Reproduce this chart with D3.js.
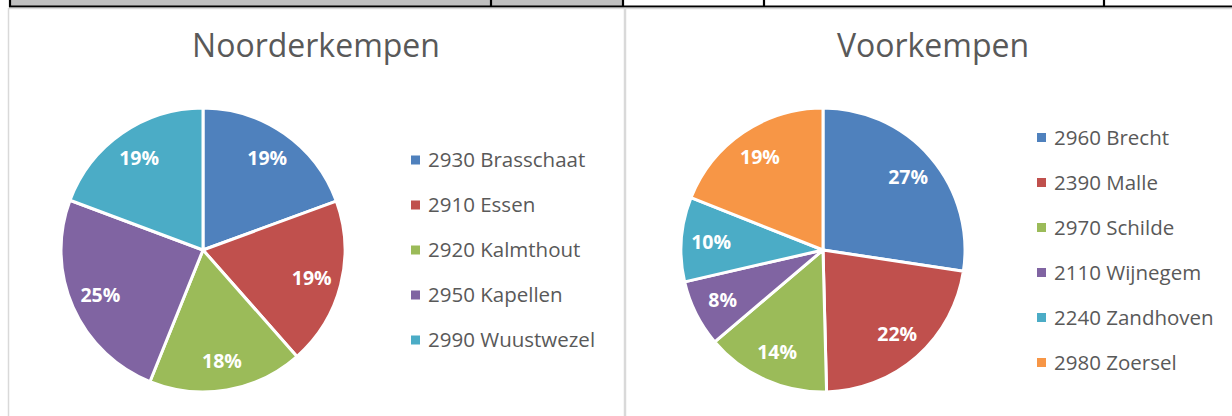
<!DOCTYPE html>
<html>
<head>
<meta charset="utf-8">
<script src="https://cdn.jsdelivr.net/npm/d3@7"></script>
<style>
  html, body { margin: 0; padding: 0; background: #ffffff; }
  svg { display: block; }
</style>
</head>
<body>
<svg id="chart" width="1232" height="416"></svg>
<script>
// ---- data ----
const titleNoord = "Noorderkempen";
const catsNoord = ["2930 Brasschaat", "2910 Essen", "2920 Kalmthout", "2950 Kapellen", "2990 Wuustwezel"];
const valsNoord = [19.4, 19.1, 17.6, 24.6, 19.3];

const titleVoor = "Voorkempen";
const catsVoor = ["2960 Brecht", "2390 Malle", "2970 Schilde", "2110 Wijnegem", "2240 Zandhoven", "2980 Zoersel"];
const valsVoor = [27.4, 22.2, 14.2, 7.6, 9.6, 19.0];

const palette = ["#4F81BD", "#C0504D", "#9BBB59", "#8064A2", "#4BACC6", "#F79646"];

// ---- drawing ----
const svg = d3.select("#chart");
const FONT = "'Open Sans', 'Noto Sans', sans-serif";

// top table row remnants
const tbl = svg.append("g");
tbl.append("rect").attr("x", 10).attr("y", 0).attr("width", 613).attr("height", 6).attr("fill", "#bfbfbf");
tbl.append("line").attr("x1", 9).attr("x2", 1232).attr("y1", 6.5).attr("y2", 6.5)
  .attr("stroke", "#000").attr("stroke-width", 2);
[10, 491, 623, 764, 1104].forEach(x => {
  tbl.append("line").attr("x1", x).attr("x2", x).attr("y1", 0).attr("y2", 7)
    .attr("stroke", "#000").attr("stroke-width", 2.2);
});

function drawPie(opts) {
  const { left, width, title, cats, vals, cx, cy, r, legendX } = opts;
  const g = svg.append("g");
  // chart frame
  g.append("rect").attr("x", left + 0.5).attr("y", 8.5).attr("width", width).attr("height", 420)
    .attr("fill", "#ffffff").attr("stroke", "#d9d9d9").attr("stroke-width", 1.5);

  g.append("text")
    .attr("x", left + width / 2).attr("y", 57)
    .attr("text-anchor", "middle")
    .attr("font-family", FONT).attr("font-size", 32)
    .attr("fill", "#595959")
    .text(title);

  const color = d3.scaleOrdinal().domain(cats).range(palette);
  const total = d3.sum(vals);
  const data = cats.map((c, i) => ({ cat: c, value: vals[i] }));
  const pie = d3.pie().value(d => d.value).sort(null);
  const arcs = pie(data);
  const arc = d3.arc().innerRadius(0).outerRadius(r);
  const labelArc = d3.arc().innerRadius(r * 0.79).outerRadius(r * 0.79);
  const fmt = d3.format(".0%");

  const pg = g.append("g").attr("transform", `translate(${cx},${cy})`);
  pg.selectAll("path").data(arcs).join("path")
    .attr("d", arc)
    .attr("fill", d => color(d.data.cat))
    .attr("stroke", "#ffffff").attr("stroke-width", 3).attr("stroke-linejoin", "round");

  pg.selectAll("text").data(arcs).join("text")
    .attr("transform", d => `translate(${labelArc.centroid(d)})`)
    .attr("text-anchor", "middle").attr("dy", "0.36em")
    .attr("font-family", FONT).attr("font-size", 19.5).attr("font-weight", "bold")
    .attr("fill", "#ffffff")
    .text(d => fmt(d.data.value / total));

  // legend
  const step = 45;
  const legY = d3.scalePoint().domain(cats).range([cy - step * (cats.length - 1) / 2, cy + step * (cats.length - 1) / 2]);
  const lg = g.append("g");
  const items = lg.selectAll("g").data(cats).join("g")
    .attr("transform", c => `translate(${legendX},${legY(c)})`);
  items.append("rect").attr("x", 0).attr("y", -4.5).attr("width", 9).attr("height", 9)
    .attr("fill", c => color(c));
  items.append("text").attr("x", 17).attr("dy", "0.36em")
    .attr("font-family", FONT).attr("font-size", 20.5).attr("fill", "#595959")
    .text(c => c);
}

drawPie({ left: 8, width: 616, title: titleNoord, cats: catsNoord, vals: valsNoord,
  cx: 203, cy: 250, r: 142, legendX: 411 });
drawPie({ left: 625, width: 616, title: titleVoor, cats: catsVoor, vals: valsVoor,
  cx: 823, cy: 250, r: 142, legendX: 1037 });
</script>
</body>
</html>
